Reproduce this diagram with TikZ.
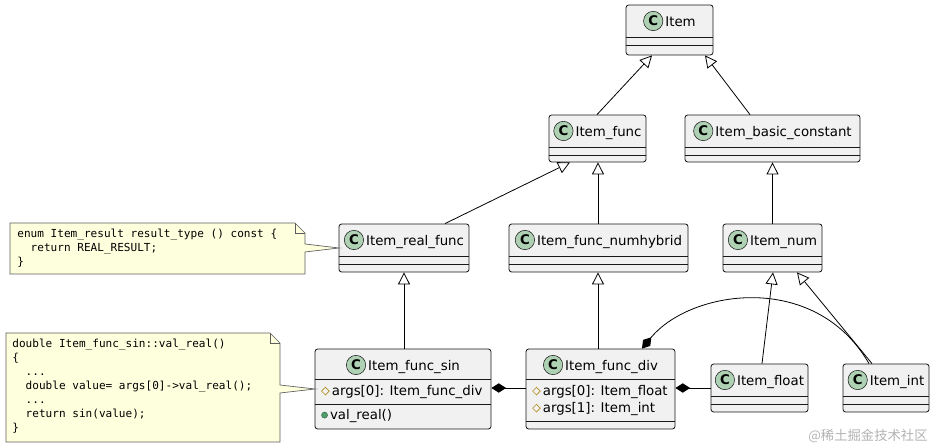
\documentclass[tikz,border=0pt]{standalone}
\usepackage{fontspec}
\setmainfont{DejaVu Sans}
\newfontfamily\codefont{DejaVu Sans Mono}
\newfontfamily\cjk{Noto Sans CJK SC}
\usetikzlibrary{arrows.meta,fit,shapes.geometric}

\definecolor{clsfill}{HTML}{F1F1F1}
\definecolor{clsline}{HTML}{181818}
\definecolor{badge}{HTML}{ADD1B2}
\definecolor{notefill}{HTML}{FEFFDD}
\definecolor{protcol}{HTML}{B38D22}
\definecolor{pubcol}{HTML}{4E9E6A}

\tikzstyle{cls}=[draw=clsline, fill=clsfill, rounded corners=2pt, inner sep=0pt]
\tikzstyle{title}=[font=\fontsize{10}{12}\selectfont, inner sep=0pt]
\tikzstyle{attr}=[font=\fontsize{10}{12}\selectfont, inner sep=0pt, anchor=west]
\tikzstyle{note}=[draw=clsline!70, fill=notefill, line width=0.5pt]
\tikzstyle{code}=[font=\codefont\fontsize{8.3}{10.5}\selectfont, align=left, anchor=north west, inner sep=0pt]
\tikzstyle{gen}=[-{Triangle[open, length=9pt, width=9pt, fill=white]}]
\tikzstyle{comp}=[{Diamond[length=11pt, width=7pt]}-]

\newcommand\cbadge{\tikz[baseline=-0.7ex]\node[circle, draw=clsline, fill=badge, inner sep=0pt, minimum size=14.5pt, font=\bfseries\fontsize{10}{10}\selectfont]{C};}
\newcommand\prot{\tikz[baseline=-0.6ex]\node[diamond, draw=protcol, inner sep=0pt, minimum size=6pt, line width=0.5pt]{};}
\newcommand\pub{\tikz[baseline=-0.6ex]\node[circle, draw=pubcol!70!black, fill=pubcol, inner sep=0pt, minimum size=4.5pt, line width=0.4pt]{};}
% box, name, header
\newcommand\umlclass[6]{%
  \node[cls, fit={(#2,#3) (#4,#5)}] (#1) {};
  \node[title] (#1t) at ({(#2+#4)/2},{#3+16}) {\cbadge\,#6};
}

\begin{document}
\begin{tikzpicture}[x=0.75pt, y=-0.75pt, line width=0.6pt]
  \useasboundingbox (0,0) rectangle (935,448);

  \umlclass{item}{626}{5}{713}{55}{Item}
  \umlclass{func}{549}{115}{646}{162}{Item\_func}
  \umlclass{basic}{685}{115}{860}{162}{Item\_basic\_constant}
  \umlclass{realfunc}{339}{224}{469}{272}{Item\_real\_func}
  \umlclass{numhyb}{509}{224}{688}{272}{Item\_func\_numhybrid}
  \umlclass{num}{723}{224}{822}{272}{Item\_num}
  \umlclass{sin}{315}{349}{491}{429}{Item\_func\_sin}
  \umlclass{div}{526}{349}{675}{429}{Item\_func\_div}
  \umlclass{float}{711}{364}{808}{412}{Item\_float}
  \umlclass{int}{843}{364}{929}{412}{Item\_int}

  \foreach \a/\y in {item/5, func/115, basic/115, realfunc/224, numhyb/224, num/224, float/364, int/364} {
    \draw[clsline] (\a.west |- 0,\y+32) -- (\a.east |- 0,\y+32);
    \draw[clsline] (\a.west |- 0,\y+40) -- (\a.east |- 0,\y+40);
  }
  \draw[clsline] (sin.west |- 0,379) -- (sin.east |- 0,379);
  \draw[clsline] (sin.west |- 0,404) -- (sin.east |- 0,404);
  \draw[clsline] (div.west |- 0,379) -- (div.east |- 0,379);
  \draw[clsline] (div.west |- 0,421) -- (div.east |- 0,421);

  % members
  \node[attr] (sina) at (321,392) {\prot\,args[0]: Item\_func\_div};
  \node[attr] (sinm) at (321,416) {\pub\,val\_real()};
  \node[attr] (diva) at (532,392) {\prot\,args[0]: Item\_float};
  \node[attr] (divb) at (532,409) {\prot\,args[1]: Item\_int};

  % inheritance
  \draw[gen] (func.north -| 597,0) -- (item.south -| 652,0);
  \draw[gen] (basic.north -| 750,0) -- (item.south -| 705,0);
  \draw[gen] (realfunc.north -| 445,0) -- (func.south -| 570,0);
  \draw[gen] (numhyb.north -| 598,0) -- (func.south -| 598,0);
  \draw[gen] (num) -- (basic);
  \draw[gen] (sin.north -| 404,0) -- (realfunc.south -| 404,0);
  \draw[gen] (div.north -| 598,0) -- (numhyb.south -| 598,0);
  \draw[gen] (float.north -| 762,0) -- (num.south -| 773,0);
  \draw[gen] (int.north -| 872,0) -- (num.south -| 797,0);

  % composition
  \draw[comp] (sin.east |- 0,388) -- (div.west |- 0,388);
  \draw[comp] (div.east |- 0,388) -- (float.west |- 0,388);
  \draw[comp] (div.north -| 642,0) .. controls (690,290) and (815,270) .. (int.north -| 869,0);

  % notes
  \draw[note] (10,223) -- (295,223) -- (305,233) -- (305,244) -- (339,248) -- (305,252) -- (305,274) -- (10,274) -- cycle;
  \draw[note, fill=none] (295,223) -- (295,233) -- (305,233);
  \node[code] (note1) at (17,229) {enum Item\_result result\_type () const \{\\\ \ return REAL\_RESULT;\\\}};
  \draw[note] (6,333) -- (270,333) -- (280,343) -- (280,385) -- (315,389) -- (280,393) -- (280,442) -- (6,442) -- cycle;
  \draw[note, fill=none] (270,333) -- (270,343) -- (280,343);
  \node[code] (note2) at (12,339) {double Item\_func\_sin::val\_real()\\\{\\\ \ ...\\\ \ double value= args[0]->val\_real();\\\ \ ...\\\ \ return sin(value);\\\}};

  \node[font=\cjk\fontsize{10}{12}\selectfont, text=black!30, anchor=south east, inner sep=0pt] (mark) at (928,443) {@稀土掘金技术社区};
\end{tikzpicture}
\end{document}
